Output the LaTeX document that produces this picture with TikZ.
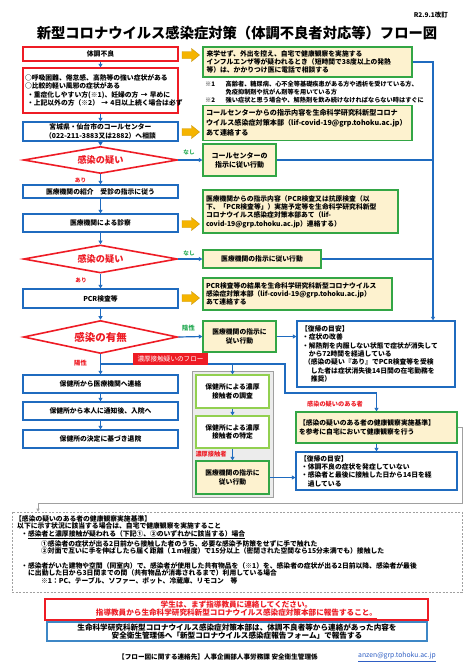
\documentclass[tikz,border=0pt]{standalone}
\usepackage{fontspec}
\setmainfont{Noto Sans CJK JP}
\usetikzlibrary{shapes.geometric,arrows.meta,calc}
\definecolor{cred}{HTML}{EE1C25}
\definecolor{cblue}{HTML}{1F6BBF}
\definecolor{cgreen}{HTML}{33A645}
\definecolor{cbeige}{HTML}{FDF2CF}
\definecolor{clgreen}{HTML}{92D050}
\definecolor{corange}{HTML}{F5B400}
\definecolor{cordark}{HTML}{C99300}
\definecolor{cgrayln}{HTML}{A0A0A0}
\definecolor{cgraybg}{HTML}{ECECEC}
\definecolor{ctgreen}{HTML}{1FA84F}
\definecolor{cnblue}{HTML}{3D87C6}
\definecolor{clink}{HTML}{2F5FC4}
\newcommand{\myfs}[2]{\fontsize{#1pt}{#2pt}\selectfont}
\newcommand{\orarrow}[1]{\filldraw[fill=corange, draw=cordark, line width=0.4pt] (182,#1-3.5) -- (191.5,#1-3.5) -- (191.5,#1-6.5) -- (199.5,#1) -- (191.5,#1+6.5) -- (191.5,#1+3.5) -- (182,#1+3.5) -- cycle;}
\begin{document}
\begin{tikzpicture}[x=1pt,y=-1pt,
  txt/.style={font=\bfseries\myfs{6.8}{8.3}},
  sz/.style 2 args={minimum width=#1, minimum height=#2},
  box/.style={txt, line width=1.3pt, inner sep=0pt, align=center},
  bluebox/.style={box, draw=cblue, fill=white},
  redbox/.style={box, draw=cred, fill=white},
  greenbox/.style={box, draw=cgreen, fill=cbeige},
  lgbox/.style={box, draw=clgreen, fill=white},
  dia/.style={diamond, draw=cred, line width=1.6pt, fill=white, inner sep=0pt, aspect=5, text=cred, font=\bfseries\myfs{9.2}{10}},
  conn/.style={draw=cblue, line width=1.2pt, -{Triangle[length=3.5pt,width=4pt]}},
  bline/.style={draw=cblue, line width=1.2pt},
  lblr/.style={text=cred, font=\bfseries\myfs{5.6}{6}, inner sep=0pt},
  lblg/.style={text=ctgreen, font=\bfseries\myfs{5.6}{6}, inner sep=0pt},
]
\fill[white] (0,0) rectangle (474,670);
\useasboundingbox (0,0) rectangle (474,670);

% title
\node[font=\bfseries\myfs{6.5}{7}, anchor=east, inner sep=0pt] (rev) at (448,15) {R2.9.1改訂};
\node[font=\bfseries\myfs{14.3}{16}, inner sep=0pt] (title) at (237,33) {新型コロナウイルス感染症対策（体調不良者対応等）フロー図};

% left column
\node[redbox, sz={155}{14}] (n1) at (100.5,54) {体調不良};
\node[redbox, sz={155}{45}, text width=151pt, align=left] (n2) at (100.5,90.5) {\mbox{○呼吸困難、倦怠感、高熱等の強い症状がある}\\\mbox{○比較的軽い風邪の症状がある}\\\mbox{\hspace*{2pt}・重症化しやすい方(※1)、妊婦の方 → 早めに}\\\mbox{\hspace*{2pt}・上記以外の方（※2） → 4日以上続く場合は必ず}};
\node[bluebox, sz={155}{19}] (n3) at (100.5,131.5) {宮城県・仙台市のコールセンター\\（022-211-3883又は2882）へ相談};
\node[dia, sz={154}{27}] (d1) at (100.5,160) {感染の疑い};
\node[bluebox, sz={155}{13}] (n5) at (100.5,191.5) {医療機関の紹介　受診の指示に従う};
\node[bluebox, sz={155}{18}] (n6) at (100.5,223) {医療機関による診察};
\node[dia, sz={154}{28}] (d2) at (100.5,259) {感染の疑い};
\node[bluebox, sz={155}{19}] (n8) at (100.5,298.5) {PCR検査等};
\node[dia, sz={154}{33}, font=\bfseries\myfs{10.5}{11}] (d3) at (100.5,337) {感染の有無};
\node[bluebox, sz={155}{18}] (n10) at (100.5,384) {保健所から医療機関へ連絡};
\node[bluebox, sz={155}{18}] (n11) at (100.5,411) {保健所から本人に通知後、入院へ};
\node[bluebox, sz={155}{18}] (n12) at (100.5,439) {保健所の決定に基づき退院};

% right column
\node[greenbox, sz={209}{30}, text width=202pt, align=left] (A) at (307.5,62) {来学せず、外出を控え、自宅で健康観察を実施する\\インフルエンザ等が疑われるとき（短時間で38度以上の発熱\\等）は、かかりつけ医に電話で相談する};
\node[anchor=north west, font=\bfseries\myfs{6.2}{7.7}, inner sep=0pt, align=left] (notes) at (205,81) {\makebox[3.3em][l]{※1}高齢者、糖尿病、心不全等基礎疾患がある方や透析を受けている方、\\\hspace*{3.3em}免疫抑制剤や抗がん剤等を用いている方\\\makebox[3.3em][l]{※2}強い症状と思う場合や、解熱剤を飲み続けなければならない時はすぐに};
\node[greenbox, sz={209}{35}, text width=203pt, align=left, font=\bfseries\myfs{7.1}{10}] (C) at (307.5,123) {コールセンターからの指示内容を生命科学研究科新型コロナ\\ウイルス感染症対策本部（lif-covid-19@grp.tohoku.ac.jp）\\あて連絡する};
\node[greenbox, sz={73}{32}, font=\bfseries\myfs{7}{9}] (D) at (239.5,160) {コールセンターの\\指示に従い行動};
\node[greenbox, sz={195}{43}, text width=189pt, align=left] (E) at (300.5,211.5) {医療機関からの指示内容（PCR検査又は抗原検査（以\\下、「PCR検査等」）実施予定等を生命科学研究科新型\\コロナウイルス感染症対策本部あて（lif-\\covid-19@grp.tohoku.ac.jp）連絡する）};
\node[greenbox, sz={118}{18}] (F) at (262,259) {医療機関の指示に従い行動};
\node[greenbox, sz={189}{32}, text width=183pt, align=left] (G) at (297.5,294) {PCR検査等の結果を生命科学研究科新型コロナウイルス\\感染症対策本部（lif-covid-19@grp.tohoku.ac.jp）\\あて連絡する};
\node[greenbox, sz={73}{31}] (H) at (239.5,336.5) {医療機関の指示に\\従い行動};
\node[bluebox, sz={158}{66}, text width=150pt, align=left] (I) at (376,354) {【復帰の目安】\\\hspace*{1pt}・症状の改善\\\hspace*{1pt}・解熱剤を内服しない状態で症状が消失して\\\hspace*{1pt}\phantom{・}から72時間を経過している\\\hspace*{3pt}（感染の疑い『あり』でPCR検査等を受検\\\hspace*{3pt}\phantom{（}した者は症状消失後14日間の在宅勤務を\\\hspace*{3pt}\phantom{（}推奨）};
\node[greenbox, sz={161}{31}, text width=155pt, align=left] (J) at (376.5,427.5) {【感染の疑いのある者の健康観察実施基準】\\を参考に自宅において健康観察を行う};
\node[bluebox, sz={161}{38}, text width=153pt, align=left] (K) at (376.5,471) {【復帰の目安】\\\hspace*{1pt}・体調不良の症状を発症していない\\\hspace*{1pt}・感染者と最後に接触した日から14日を経\\\hspace*{1pt}\phantom{・}過している};

% grey group
\node[draw=cgrayln, fill=cgraybg, line width=0.8pt, sz={81}{126}] (gbox) at (232.5,434) {};
\node[lgbox, sz={73}{33}] (g1) at (232.5,391.5) {保健所による濃厚\\接触者の調査};
\node[lgbox, sz={73}{32}] (g2) at (232.5,432) {保健所による濃厚\\接触者の特定};
\node[greenbox, sz={73}{33}] (g3) at (232.5,477.5) {医療機関の指示に\\従い行動};

% dashed box
\node[draw=cgrayln, dash pattern=on 2pt off 1.5pt, line width=0.6pt, sz={450}{80}] (L) at (237,552) {};
\node[anchor=north west, inner sep=0pt, align=left, font=\bfseries\myfs{6.8}{7.7}] (Lt1) at (15,515) {【感染の疑いのある者の健康観察実施基準】\\\hspace*{2pt}以下に示す状況に該当する場合は、自宅で健康観察を実施すること\\\hspace*{6pt}・\underline{感染者と濃厚接触が疑われる（下記①、②のいずれかに該当する）場合}\\\hspace*{26pt}①感染者の症状が出る2日前から接触した者のうち、必要な感染予防策をせずに手で触れた\\\hspace*{26pt}②対面で互いに手を伸ばしたら届く距離（１ｍ程度）で15分以上（密閉された空間なら15分未満でも）接触した};
\node[anchor=north west, inner sep=0pt, align=left, font=\bfseries\myfs{6.8}{7.7}] (Lt2) at (15,562) {\hspace*{6pt}・感染者がいた建物や空間（同室内）で、感染者が使用した共有物品を（※1）を、感染者の症状が出る2日前以降、感染者が最後\\\hspace*{13pt}に出勤した日から3日間までの間（共有物品が消毒されるまで）利用している場合\\\hspace*{26pt}※1：PC、テーブル、ソファー、ポット、冷蔵庫、リモコン　等};

% bottom boxes
\node[draw=cred, line width=2.2pt, fill=white, sz={383}{21}, align=center, text=cred, font=\bfseries\myfs{7.6}{8.6}, inner sep=0pt] (M) at (236.5,609.5) {学生は、まず指導教員に連絡してください。\\\underline{指導教員から生命科学研究科新型コロナウイルス感染症対策本部に報告すること。}};
\node[draw=cnblue, line width=1.5pt, fill=white, sz={380}{19}, align=center, font=\bfseries\myfs{7.6}{8.8}, inner sep=0pt] (N) at (237,631.5) {生命科学研究科新型コロナウイルス感染症対策本部は、体調不良者等から連絡があった内容を\\安全衛生管理係へ「新型コロナウイルス感染症報告フォーム」で報告する};
\node[anchor=west, inner sep=0pt, font=\bfseries\myfs{6.6}{7}] (foot) at (118,657) {【フロー図に関する連絡先】人事企画部人事労務課 安全衛生管理係};
\node[anchor=west, inner sep=0pt, font=\myfs{6.8}{7}, text=clink] (link) at (358,657) {\underline{anzen@grp.tohoku.ac.jp}};

% connectors left column
\draw[conn] (n1) -- (n2);
\draw[conn] (n2) -- (n3);
\draw[conn] (n3) -- (d1);
\draw[conn] (d1) -- (n5);
\draw[conn] (n5) -- (n6);
\draw[conn] (n6) -- (d2);
\draw[conn] (d2) -- (n8);
\draw[conn] (n8) -- (d3);
\draw[conn] (d3) -- (n10);
\draw[conn] (n10) -- (n11);
\draw[conn] (n11) -- (n12);

% right side
\coordinate (rv) at (433,0);
\draw[conn] (A.east) -| (rv |- I.north);
\draw[bline] (D.east) -- (D.east -| rv);
\draw[bline] (F.east) -- (F.east -| rv);
\draw[conn] (d1.east) -- (D.west);
\draw[conn] (d2.east) -- (F.west);
\draw[conn] (d3.east) -- (H.west);
\draw[conn] (H.east) -- (I.west |- H.east);

% positive flow
\coordinate (j1) at (100.5,364);
\coordinate (j2) at (285,364);
\coordinate (j3) at (285,393);
\draw[conn] (j1) -- (j2) -- (j3) -- (j3 -| J.north) -- (J.north);
\draw[conn] (j1 -| g1.north) -- (g1.north);
\draw[conn] (g1) -- (g2);
\draw[conn] (g2) -- (g3);
\draw[conn] (g3.east) -- (g3.east -| K.west);
\draw[conn] (J) -- (K);
\coordinate (gc) at (462,503);
\coordinate (gl) at (38,503);
\draw[draw=cgrayln, line width=0.7pt, -{Triangle[length=3pt,width=3pt]}] (J.east) -| (gc) -- (gl) -- (gl |- L.north);

\node[fill=cred, text=white, sz={75}{11.5}, inner sep=0pt, font=\myfs{6.6}{7}] (rl) at (170.5,359) {濃厚接触疑いのフロー};

% labels
\node[lblg] (l1) at (189,152.5) {なし};
\node[lblr] (l2) at (80.5,180.5) {あり};
\node[lblg] (l3) at (189,253.5) {なし};
\node[lblr] (l4) at (81,280.5) {あり};
\node[lblg, font=\bfseries\myfs{6.3}{7}] (l5) at (188.5,328.5) {陰性};
\node[lblr, font=\bfseries\myfs{6.3}{7}] (l6) at (80.5,363) {陽性};
\node[lblr, font=\bfseries\myfs{6.2}{7}] (l7) at (211,454.5) {濃厚接触者};
\node[lblr, font=\bfseries\myfs{6.2}{7}] (l8) at (335,404) {感染の疑いのある者};

% orange block arrows
\orarrow{55}
\orarrow{132}
\orarrow{224}
\orarrow{298}
\end{tikzpicture}
\end{document}
